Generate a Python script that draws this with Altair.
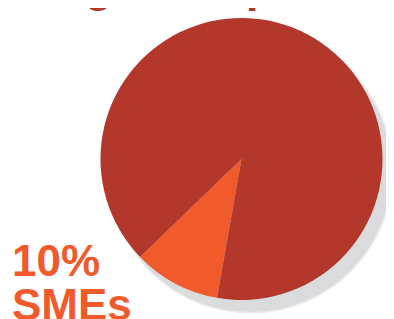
import math
import altair as alt
import pandas as pd

# Data
segments = ["SMEs", "Large companies"]
shares = [10, 90]
seg_colors = ["#F15A2B", "#B3372A"]
label_lines = ["10%", "SMEs"]
title_text = "Large companies"

df = pd.DataFrame({"segment": segments, "share": shares, "idx": list(range(len(segments)))})
one = alt.Data(values=[{"share": 100}])

start = math.radians(190)
cx, cy, r = 233.5, 151, 141

shadow_soft = alt.Chart(one).mark_arc(outerRadius=r + 1.5, color="#DCDDDF", opacity=0.6).encode(
    theta=alt.Theta("share:Q"), x=alt.value(cx + 9), y=alt.value(cy + 12)
)
shadow = alt.Chart(one).mark_arc(outerRadius=r, color="#DADBDD").encode(
    theta=alt.Theta("share:Q"), x=alt.value(cx + 9), y=alt.value(cy + 12)
)

pie = alt.Chart(df).mark_arc(outerRadius=r).encode(
    theta=alt.Theta("share:Q", stack=True, scale=alt.Scale(range=[start, start + 2 * math.pi])),
    color=alt.Color("segment:N", scale=alt.Scale(domain=segments, range=seg_colors), legend=None),
    order=alt.Order("idx:Q"),
    x=alt.value(cx),
    y=alt.value(cy),
)

font = "Liberation Sans"
t1 = alt.Chart(alt.Data(values=[{}])).mark_text(
    text=label_lines[0], font=font, fontWeight="bold", fontSize=44, color="#F15A2B",
    align="left", baseline="alphabetic"
).encode(x=alt.value(4), y=alt.value(268))
t2 = alt.Chart(alt.Data(values=[{}])).mark_text(
    text=label_lines[1], font=font, fontWeight="bold", fontSize=44, color="#F15A2B",
    align="left", baseline="alphabetic"
).encode(x=alt.value(4), y=alt.value(312))
title = alt.Chart(alt.Data(values=[{}])).mark_text(
    text=title_text, font=font, fontWeight="bold", fontSize=46, color="#B3372A",
    align="left", baseline="alphabetic"
).encode(x=alt.value(5), y=alt.value(-7))

chart = alt.layer(shadow_soft, shadow, pie, t1, t2, title).properties(
    width=378, height=330, padding=0, autosize="none", background="white"
).configure_view(stroke=None)

chart.save("out.html", embed_options={"renderer": "svg", "actions": False})
